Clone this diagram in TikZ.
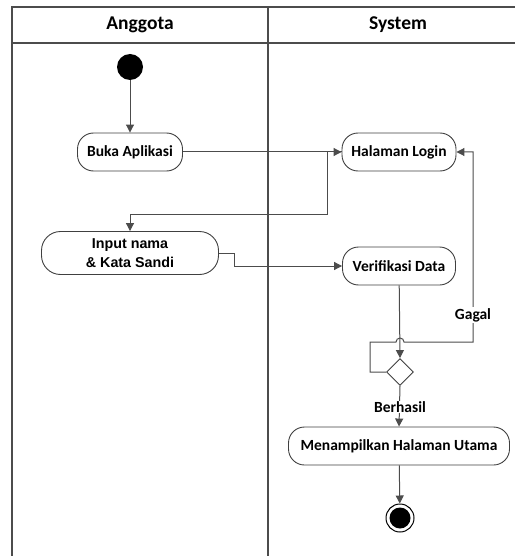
\documentclass[tikz,border=0pt]{standalone}
\usepackage{fontspec}
\setmainfont{Carlito}
\newfontfamily\arialfont{Liberation Sans}
\usetikzlibrary{shapes.geometric,arrows.meta}
\begin{document}
\begin{tikzpicture}[x=1pt,y=-1pt,
  ln/.style={draw=black!70,line width=1pt},
  arr/.style={ln,-{Triangle[length=8pt,width=8pt]}},
  act/.style={draw=black!75,line width=0.9pt,fill=white,rounded corners=16pt,
     font=\fontsize{15.5}{18}\selectfont\bfseries,inner sep=2pt},
  lbl/.style={fill=white,font=\fontsize{15.5}{18}\selectfont\bfseries,inner sep=1pt},
  frame/.style={draw=black!70,line width=1.4pt}]
\useasboundingbox (0,0) rectangle (514,556);
% swimlane frame
\draw[frame] (12,556) -- (12,7) -- (520,7);
\draw[frame] (12,43) -- (520,43);
\draw[frame] (268,7) -- (268,556);
\node[font=\fontsize{19.5}{22}\selectfont\bfseries] (h1) at (140,25) {Anggota};
\node[font=\fontsize{19.5}{22}\selectfont\bfseries] (h2) at (398,25) {System};
% nodes
\node[circle,fill=black,minimum size=26pt,inner sep=0pt] (start) at (130,67) {};
\node[act,minimum width=105pt,minimum height=38pt] (buka) at (130,152) {Buka Aplikasi};
\node[act,minimum width=114pt,minimum height=38pt] (login) at (399,152) {Halaman Login};
\node[act,minimum width=177pt,minimum height=43pt,rounded corners=19pt,
      font=\arialfont\fontsize{14.3}{18.5}\selectfont\bfseries,align=center] (input) at (130,253) {Input nama\\ \& Kata Sandi};
\node[act,minimum width=113pt,minimum height=38pt] (verif) at (399,266) {Verifikasi Data};
\node[diamond,aspect=1,draw=black!75,line width=0.9pt,fill=white,minimum size=27pt,inner sep=0pt] (dec) at (400,372) {};
\node[act,minimum width=221pt,minimum height=38pt] (main) at (399,446) {Menampilkan Halaman Utama};
\node[circle,draw=black,line width=1pt,minimum size=28pt,inner sep=0pt] (end) at (400,518) {};
\fill[black] (end.center) circle (10.5pt);
% helper coordinates
\coordinate (c1) at (327,214);
\coordinate (g1) at (370,372);
\coordinate (g2) at (370,342);
\coordinate (g3) at (396,342);
\coordinate (g4) at (473,342);
\coordinate (g5) at (473,152);
% connectors
\draw[arr] (start) -- (buka);
\draw[arr] (buka) -- (login);
\draw[arr] (login.west) -| (c1) -| (input.north);
\draw[arr] (input.east) -- ++(16,0) |- (verif.west);
\draw[arr] (verif) -- (dec.north);
\draw[arr] (dec.west) -- (g1) -- (g2) -- (g3) arc[start angle=180,end angle=0,radius=4pt] -- (g4) -- (g5) -- (login.east);
\node[lbl] (gagal) at (473,315) {Gagal};
\draw[arr] (dec.south) -- (main.north);
\node[lbl] (berhasil) at (400,407) {Berhasil};
\draw[arr] (main) -- (end);
\end{tikzpicture}
\end{document}
